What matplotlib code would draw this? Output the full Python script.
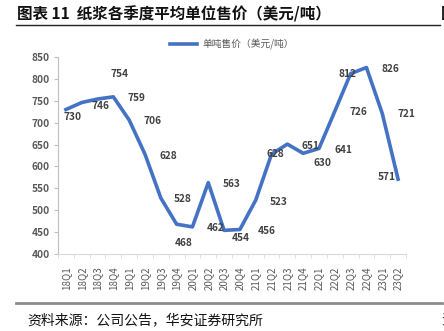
import matplotlib
matplotlib.use("Agg")
import matplotlib.pyplot as plt
from matplotlib.ticker import MultipleLocator

plt.rcParams['font.family'] = ['Noto Sans CJK SC', 'DejaVu Sans']

quarters = ['18Q1', '18Q2', '18Q3', '18Q4', '19Q1', '19Q2', '19Q3', '19Q4',
            '20Q1', '20Q2', '20Q3', '20Q4', '21Q1', '21Q2', '21Q3', '21Q4',
            '22Q1', '22Q2', '22Q3', '22Q4', '23Q1', '23Q2']
price = [730, 746, 754, 759, 706, 628, 528, 468, 462, 563, 454, 456,
         523, 628, 651, 630, 641, 726, 812, 826, 721, 571]

# label offsets in pixels (dx right, dy down) relative to each point
label_off = [(7, 7), (19, 3), (22, -25), (23, 1), (23, 1), (23, 2), (22, 1),
             (7, 19), (23, 1), (23, 1), (17, 8), (27, 2), (23, 2), (4, 0),
             (23, 2), (19, 10), (24, 2), (24, 1), (-3, 0), (24, 1), (24, 1),
             (-11, -2)]

blue = '#4472C4'
grey = '#595959'

fig = plt.figure(figsize=(4.44, 3.31), dpi=100)
ax = fig.add_axes([0.1306, 0.2326, 0.7838, 0.5952])

x = list(range(len(quarters)))
ax.plot(x, price, color=blue, lw=2.6, solid_joinstyle='round',
        label='单吨售价（美元/吨）')

for i, v in enumerate(price):
    dx, dy = label_off[i]
    ax.annotate(str(v), (i, v), xytext=(dx * 0.72, -dy * 0.72),
                textcoords='offset points', ha='center', va='center',
                fontsize=7.3, fontweight='bold', color='#404040')

ax.set_xlim(-0.5, len(quarters) - 0.5)
ax.set_ylim(400, 850)
ax.yaxis.set_major_locator(MultipleLocator(50))
ax.set_xticks(x)
ax.set_xticklabels(quarters, rotation=90, fontsize=7, color=grey)
ax.set_xticks([i + 0.5 for i in range(-1, len(quarters))], minor=True)
ax.tick_params(axis='x', which='major', length=0, pad=9)
ax.tick_params(axis='x', which='minor', length=3, color='#d9d9d9')
ax.tick_params(axis='y', length=3, color='#bfbfbf', labelsize=7.3,
               labelcolor=grey, pad=3)
for t in ax.get_yticklabels():
    t.set_fontweight('bold')

for s in ['top', 'right']:
    ax.spines[s].set_visible(False)
ax.spines['left'].set_color('#bfbfbf')
ax.spines['bottom'].set_color('#d9d9d9')

ax.legend(loc='lower center', bbox_to_anchor=(0.5, 1.0), frameon=False,
          fontsize=7, labelcolor=grey, handlelength=2.8, handletextpad=0.6,
          borderaxespad=0.3)

fig.text(0.038, 0.958, '图表 11  纸浆各季度平均单位售价（美元/吨）',
         fontsize=11.2, fontweight='bold', va='center', color='#111111')
fig.add_artist(plt.Line2D([0.036, 0.99], [0.923, 0.923],
                          color='#222222', lw=1.0))
fig.add_artist(plt.Line2D([0.036, 0.995], [0.086, 0.086],
                          color='#8c8c8c', lw=2.0))
fig.text(0.061, 0.033, '资料来源：公司公告，华安证券研究所',
         fontsize=10, va='center', color='#111111')
# edge of the neighbouring chart, clipped by the border
fig.text(0.993, 0.958, '图', fontsize=11.2, fontweight='bold',
         va='center', color='#111111')
fig.text(0.993, 0.033, '资', fontsize=10, va='center', color='#111111')

fig.savefig('out.png', dpi=100)
